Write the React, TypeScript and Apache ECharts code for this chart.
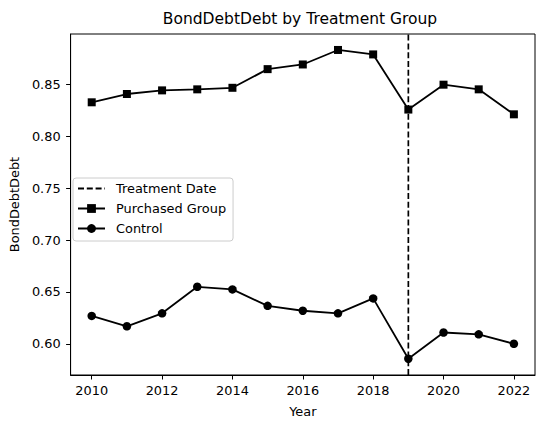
import React, { useEffect, useRef } from "react";
import * as echarts from "echarts";

const years = [2010, 2011, 2012, 2013, 2014, 2015, 2016, 2017, 2018, 2019, 2020, 2021, 2022];
const purchased = [0.833, 0.841, 0.8445, 0.8455, 0.847, 0.865, 0.8695, 0.8835, 0.8792, 0.826, 0.85, 0.8455, 0.8214];
const control = [0.6269, 0.6169, 0.6294, 0.655, 0.6525, 0.6366, 0.6319, 0.6294, 0.6438, 0.5856, 0.6109, 0.6091, 0.6];
const treatmentYear = 2019;
const xTicks = [2010, 2012, 2014, 2016, 2018, 2020, 2022];
const yTicks = [0.6, 0.65, 0.7, 0.75, 0.8, 0.85];

const Y_MIN = 0.5699;
const Y_MAX = 0.8989;
const X_MIN = 2009.4;
const X_MAX = 2022.6;

const FONT = "DejaVu Sans";
const FS = 12.9;

export default function App() {
  const ref = useRef<HTMLDivElement>(null);
  useEffect(() => {
    if (!ref.current) return;
    const chart = echarts.init(ref.current, null, { renderer: "svg" });
    chart.setOption({
      animation: false,
      backgroundColor: "#ffffff",
      textStyle: { fontFamily: FONT },
      title: {
        text: "BondDebtDebt by Treatment Group",
        left: 300,
        top: 11,
        textAlign: "center",
        padding: 0,
        textStyle: { fontFamily: FONT, fontSize: 15.5, fontWeight: "normal", color: "#000" },
      },
      grid: {
        left: 66,
        right: 1,
        top: 34,
        bottom: 39,
        show: true,
        borderColor: "#000",
        borderWidth: 1,
        backgroundColor: "transparent",
      },
      legend: {
        orient: "vertical",
        left: 73,
        top: 178,
        backgroundColor: "#fff",
        borderColor: "#cccccc",
        borderWidth: 1,
        borderRadius: 3,
        padding: [4, 7, 6, 4],
        itemGap: 7,
        itemWidth: 27,
        itemHeight: 11,
        textStyle: { fontFamily: FONT, fontSize: FS, color: "#000", padding: [0, 0, 0, 6] },
        data: [
          { name: "Treatment Date", itemStyle: { opacity: 0 } },
          "Purchased Group",
          "Control",
        ],
      },
      xAxis: {
        type: "value",
        min: X_MIN,
        max: X_MAX,
        name: "Year",
        nameLocation: "middle",
        nameGap: 30,
        nameTextStyle: { fontFamily: FONT, fontSize: FS, color: "#000" },
        splitLine: { show: false },
        axisLine: { show: true, onZero: false, lineStyle: { color: "#000", width: 1 } },
        axisTick: { show: true, length: 4.5, lineStyle: { color: "#000" }, customValues: xTicks },
        axisLabel: {
          show: true,
          color: "#000",
          fontSize: FS,
          fontFamily: FONT,
          margin: 9,
          customValues: xTicks,
          formatter: (v: number) => String(v),
        },
      },
      yAxis: {
        type: "value",
        min: Y_MIN,
        max: Y_MAX,
        name: "BondDebtDebt",
        nameLocation: "middle",
        nameGap: 46,
        nameRotate: 90,
        nameTextStyle: { fontFamily: FONT, fontSize: FS, color: "#000" },
        splitLine: { show: false },
        axisLine: { show: true, onZero: false, lineStyle: { color: "#000", width: 1 } },
        axisTick: { show: true, length: 4.5, lineStyle: { color: "#000" }, customValues: yTicks },
        axisLabel: {
          show: true,
          color: "#000",
          fontSize: FS,
          fontFamily: FONT,
          margin: 10,
          customValues: yTicks,
          formatter: (v: number) => v.toFixed(2),
        },
      },
      series: [
        {
          name: "Treatment Date",
          type: "line",
          data: [
            [treatmentYear, Y_MIN],
            [treatmentYear, Y_MAX],
          ],
          symbol: "none",
          lineStyle: { color: "#000", width: 1.7, type: [6, 2.8] },
          itemStyle: { color: "#000" },
          z: 1,
        },
        {
          name: "Purchased Group",
          type: "line",
          data: years.map((y, i) => [y, purchased[i]]),
          symbol: "rect",
          symbolSize: 8,
          showAllSymbol: true,
          lineStyle: { color: "#000", width: 1.8 },
          itemStyle: { color: "#000" },
          z: 3,
        },
        {
          name: "Control",
          type: "line",
          data: years.map((y, i) => [y, control[i]]),
          symbol: "circle",
          symbolSize: 8.5,
          showAllSymbol: true,
          lineStyle: { color: "#000", width: 1.8 },
          itemStyle: { color: "#000" },
          z: 3,
        },
      ],
    });
    return () => chart.dispose();
  }, []);
  return <div ref={ref} style={{ width: 536, height: 423, position: "absolute", left: 0, top: 0 }} />;
}
